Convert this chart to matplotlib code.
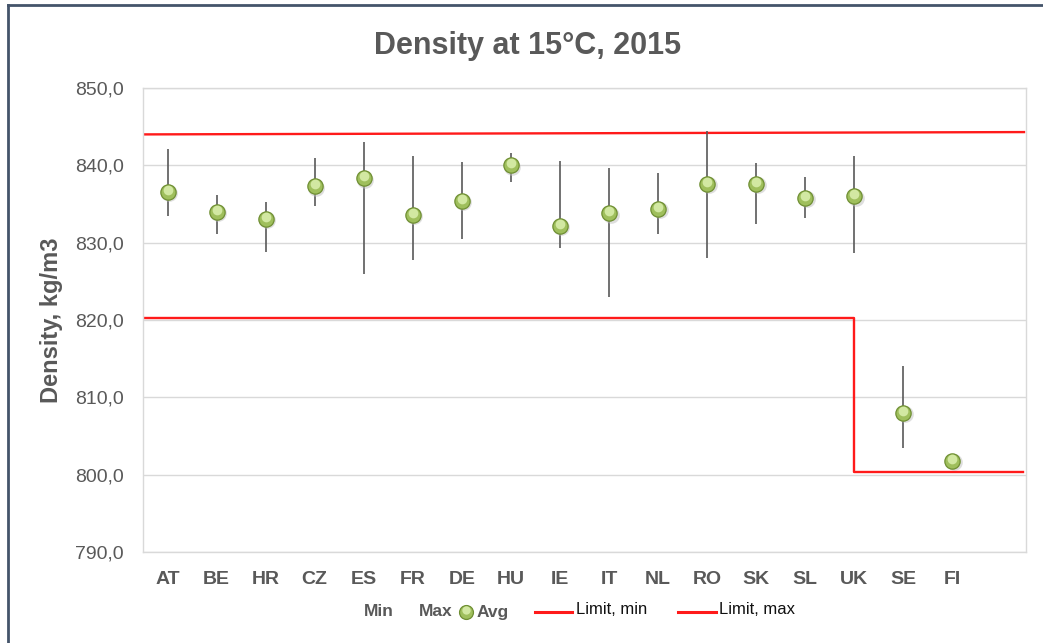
import matplotlib
matplotlib.use('Agg')
import matplotlib.pyplot as plt
from matplotlib.lines import Line2D
from matplotlib.transforms import offset_copy

plt.rcParams['font.family'] = ['Liberation Sans', 'DejaVu Sans']

countries = ['AT', 'BE', 'HR', 'CZ', 'ES', 'FR', 'DE', 'HU', 'IE', 'IT',
             'NL', 'RO', 'SK', 'SL', 'UK', 'SE', 'FI']
dens_avg = [836.6, 834.0, 833.1, 837.3, 838.3, 833.6, 835.4, 840.0, 832.2,
            833.8, 834.4, 837.6, 837.6, 835.8, 836.0, 808.0, 801.8]
dens_max = [842.1, 836.2, 835.2, 841.0, 843.0, 841.2, 840.4, 841.6, 840.5,
            839.7, 839.0, 844.4, 840.3, 838.5, 841.2, 814.0, 801.8]
dens_min = [833.5, 831.1, 828.8, 834.8, 826.0, 827.7, 830.5, 837.8, 829.3,
            823.0, 831.1, 828.0, 832.4, 833.2, 828.6, 803.5, 801.8]

# limit lines (category position, value)
limit_min_x = [-0.5, 14, 14, 17.43]
limit_min = [820.2, 820.2, 800.3, 800.3]
limit_max_x = [-0.5, 17.46]
limit_max = [844.0, 844.3]

yticks = [790, 800, 810, 820, 830, 840, 850]

GRAY = '#595959'
GREEN = '#9fbf5c'
GREEN_EDGE = '#6f8f33'
GREEN_HI = '#d2e8a2'
RED = '#ff1a1a'

fig = plt.figure(figsize=(10.43, 6.43), dpi=100)
ax = fig.add_axes([143 / 1043, 1 - 552 / 643, 883 / 1043, 464 / 643])

x = list(range(len(countries)))

# high-low lines
ax.vlines(x, dens_min, dens_max, color=GRAY, lw=1.2, zorder=3)

# limits
ax.plot(limit_min_x, limit_min, color=RED, lw=1.7, zorder=2)
ax.plot(limit_max_x, limit_max, color=RED, lw=1.7, zorder=2)

# avg markers, drawn as small spheres with a soft shadow
sh = offset_copy(ax.transData, fig=fig, x=1.5, y=-1.5, units='dots')
ax.plot(x, dens_avg, 'o', ms=12, mfc='#bfbfbf', mec='none', alpha=0.5,
        transform=sh, zorder=4)
ax.plot(x, dens_avg, 'o', ms=11, mfc=GREEN, mec=GREEN_EDGE, mew=0.9, zorder=5)
hi = offset_copy(ax.transData, fig=fig, x=0, y=2, units='dots')
ax.plot(x, dens_avg, 'o', ms=7, mfc=GREEN_HI, mec='none', transform=hi, zorder=6)

ax.set_xlim(-0.5, 17.5)
ax.set_ylim(790, 850)
ax.set_yticks(yticks)
ax.set_yticklabels([f'{v:.1f}'.replace('.', ',') for v in yticks])
ax.set_xticks(x)
ax.set_xticklabels(countries, fontweight='bold')
ax.tick_params(axis='both', length=0, colors=GRAY, labelsize=14)
ax.tick_params(axis='y', pad=14)
ax.tick_params(axis='x', pad=14)
ax.grid(axis='y', color='#d9d9d9', lw=1)
ax.set_axisbelow(True)
for s in ax.spines.values():
    s.set_color('#d9d9d9')
    s.set_linewidth(1)

ax.set_ylabel('Density, kg/m3', fontsize=17, fontweight='bold', color=GRAY)
ax.yaxis.set_label_coords((63 - 143) / 883, 0.5)

fig.text(528 / 1043, 1 - 46 / 643, 'Density at 15°C, 2015', fontsize=22,
         fontweight='bold', color=GRAY, ha='center', va='center')

# legend, laid out like the original
def fx(px):
    return px / 1043

def fy(py):
    return 1 - py / 643

ly = 612
fig.text(fx(364), fy(ly), 'Min', fontsize=12.5, fontweight='bold', color=GRAY, va='center')
fig.text(fx(419), fy(ly), 'Max', fontsize=12.5, fontweight='bold', color=GRAY, va='center')
fig.add_artist(Line2D([fx(466)], [fy(ly)], marker='o', ms=10, mfc=GREEN,
                      mec=GREEN_EDGE, mew=0.9, ls='none'))
fig.add_artist(Line2D([fx(466)], [fy(ly - 2)], marker='o', ms=6, mfc=GREEN_HI,
                      mec='none', ls='none'))
fig.text(fx(477), fy(ly), 'Avg', fontsize=12.5, fontweight='bold', color=GRAY, va='center')
fig.add_artist(Line2D([fx(535), fx(572)], [fy(ly), fy(ly)], color=RED, lw=2.2))
fig.text(fx(576), fy(ly - 3), 'Limit, min', fontsize=12, color='#111111', va='center')
fig.add_artist(Line2D([fx(678), fx(716)], [fy(ly), fy(ly)], color=RED, lw=2.2))
fig.text(fx(719), fy(ly - 3), 'Limit, max', fontsize=12, color='#111111', va='center')

# outer chart frame (top and left edges visible)
fig.add_artist(Line2D([fx(8), fx(1043)], [fy(5), fy(5)], color='#44546a', lw=2))
fig.add_artist(Line2D([fx(8), fx(8)], [fy(5), fy(643)], color='#44546a', lw=2))

fig.savefig('out.png', dpi=100)
